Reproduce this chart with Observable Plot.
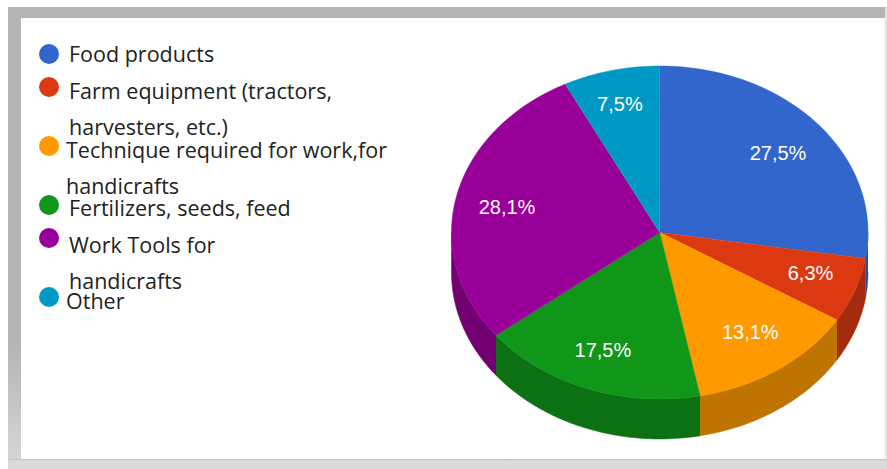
<!DOCTYPE html>
<html>
<head>
<meta charset="utf-8">
<script src="https://cdn.jsdelivr.net/npm/d3@7"></script>
<script src="https://cdn.jsdelivr.net/npm/@observablehq/plot@0.6"></script>
<style>
  html, body { margin: 0; padding: 0; background: #fff; }
  #stage { position: relative; width: 887px; height: 469px; overflow: hidden; }
  #stage > div { position: absolute; }
  .top { left: 8px; top: 7px; width: 877px; height: 11px; background: #b4b6b4; }
  .left { left: 8px; top: 7px; width: 13px; height: 452px; background: linear-gradient(#b4b6b4 0, #b4b6b4 340px, #d4d6d4 452px); }
  .right { left: 885px; top: 7px; width: 2px; height: 452px; background: #e2e2e2; }
  .bottom { left: 8px; top: 459px; width: 879px; height: 10px; background: linear-gradient(#bdbdbd 0, #dcdcdc 2px, #dadada 100%); }
  #stage svg { position: absolute; left: 0; top: 0; }
  .swatch { width: 20px; height: 20px; border-radius: 50%; left: 39px; }
  .line { font: 21.5px "Open Sans", sans-serif; color: #222; white-space: nowrap; line-height: 20px; height: 20px; }
</style>
</head>
<body>
<div id="stage">
  <div class="top"></div><div class="left"></div><div class="right"></div><div class="bottom"></div>
</div>
<script>
// Spending shares, clockwise from twelve o'clock
const categories = ["Food products", "Farm equipment (tractors, harvesters, etc.)", "Technique required for work,for handicrafts", "Fertilizers, seeds, feed", "Work Tools for handicrafts", "Other"];
const shares = [27.5, 6.3, 13.1, 17.5, 28.1, 7.5];
const legendLines = [
  ["Food products"],
  ["Farm equipment (tractors,", "harvesters, etc.)"],
  ["Technique required for work,for", "handicrafts"],
  ["Fertilizers, seeds, feed"],
  ["Work Tools for", "handicrafts"],
  ["Other"]
];
const palette = ["#3366cc", "#dc3912", "#ff9900", "#109618", "#990099", "#0099c6"];

// Legend layout
const swatchCentres = [54, 87, 146, 205, 238, 297];
const textLefts = [69, 69, 66, 69, 69, 66];
const textCentres = [[54], [91, 127], [150, 186], [208], [245, 281], [301]];

// How far out along its slice each percentage sits, across and down the ellipse
const labelReachX = [0.747, 0.772, 0.763, 0.785, 0.751, 0.82];
const labelReachY = [0.726, 0.706, 0.733, 0.759, 0.7, 0.788];

// The tilted disc lives in unit coordinates; the scales stretch it into an ellipse
const depth = 0.24;
const total = d3.sum(shares);
const cumulative = d3.cumsum(shares);
const slices = shares.map((share, i) => ({
  category: categories[i],
  share,
  color: palette[i],
  side: d3.interpolateRgb(palette[i], "#000")(0.25),
  reachX: labelReachX[i],
  reachY: labelReachY[i],
  start: ((cumulative[i] - share) / total) * 360,
  end: (cumulative[i] / total) * 360
}));
slices.forEach((s) => (s.mid = (s.start + s.end) / 2));

const rad = (deg) => (deg * Math.PI) / 180;
const onRim = (deg, drop = 0) => ({x: Math.sin(rad(deg)), y: -Math.cos(rad(deg)) + drop});
const sweep = (a, b) => d3.range(0, 61).map((k) => a + ((b - a) * k) / 60);

const topFaces = slices.flatMap((s) =>
  [{x: 0, y: 0}, ...sweep(s.start, s.end).map((d) => onRim(d))].map((p) => ({...p, id: s.category, fill: s.color}))
);

// Only the near half of the rim shows a wall
const walls = slices
  .filter((s) => s.end > 90 && s.start < 270)
  .flatMap((s) => {
    const arc = sweep(Math.max(s.start, 90), Math.min(s.end, 270));
    return [...arc.map((d) => onRim(d)), ...arc.slice().reverse().map((d) => onRim(d, depth))]
      .map((p) => ({...p, id: s.category, fill: s.side}));
  });

const comma = d3.formatLocale({decimal: ",", thousands: ".", grouping: [3], currency: ["", ""]});
const formatShare = (v) => comma.format(".1f")(v) + "%";

const chart = Plot.plot({
  width: 887,
  height: 469,
  margin: 0,
  style: {background: "transparent"},
  x: {domain: [-1, 1], range: [451, 867.5], axis: null},
  y: {domain: [-1, 1], range: [65.5, 398.5], axis: null},
  color: {type: "identity"},
  marks: [
    Plot.line(walls, {x: "x", y: "y", z: "id", fill: "fill", stroke: "fill", strokeWidth: 0.5}),
    Plot.line(topFaces, {x: "x", y: "y", z: "id", fill: "fill", stroke: "fill", strokeWidth: 0.5}),
    Plot.text(slices, {
      x: (d) => d.reachX * Math.sin(rad(d.mid)),
      y: (d) => -d.reachY * Math.cos(rad(d.mid)),
      text: (d) => formatShare(d.share),
      fill: "#fff",
      fontSize: 20,
      fontFamily: "Liberation Sans, Arial, sans-serif"
    })
  ]
});
const stage = document.getElementById("stage");
stage.appendChild(chart);

// Legend sits over the left part of the panel
palette.forEach((color, i) => {
  const swatch = document.createElement("div");
  swatch.className = "swatch";
  swatch.style.top = swatchCentres[i] - 10 + "px";
  swatch.style.background = color;
  stage.appendChild(swatch);
  legendLines[i].forEach((text, j) => {
    const line = document.createElement("div");
    line.className = "line";
    line.textContent = text;
    line.style.left = textLefts[i] + "px";
    line.style.top = textCentres[i][j] - 10 + "px";
    stage.appendChild(line);
  });
});
</script>
</body>
</html>
